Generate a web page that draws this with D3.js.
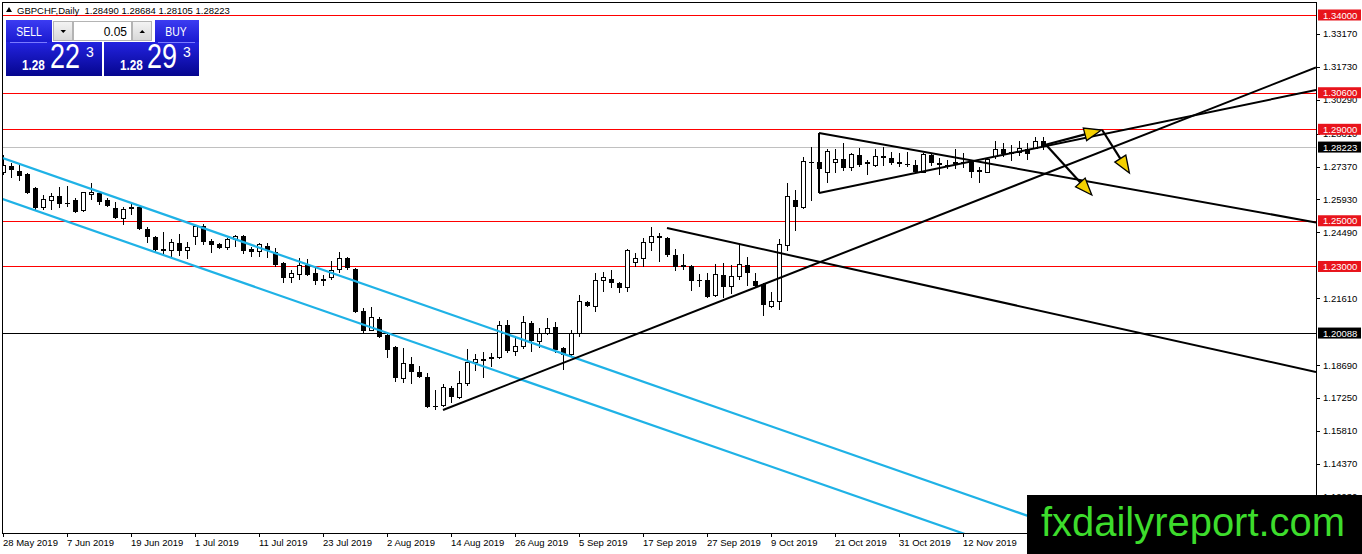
<!DOCTYPE html>
<html><head><meta charset="utf-8">
<script src="https://cdn.jsdelivr.net/npm/d3@7"></script>
<style>
body{margin:0;background:#fff;overflow:hidden}
svg{display:block}
text{font-family:"Liberation Sans",Arial,sans-serif}
</style>
</head><body>
<svg id="c" width="1362" height="554"></svg>
<script>
// ---------------- DATA ----------------
const title = "GBPCHF,Daily  1.28490 1.28684 1.28105 1.28223";
const firstDate = "2019-05-28";
const opens = [1.2713,1.2740,1.2718,1.2705,1.2643,1.2556,1.2587,1.2608,1.2578,1.2591,
1.2543,1.2617,1.2622,1.2591,1.2556,1.2512,1.2556,1.2560,1.2464,1.2429,
1.2377,1.2368,1.2403,1.2368,1.2429,1.2477,1.2412,1.2399,1.2381,1.2416,
1.2434,1.2377,1.2364,1.2390,1.2364,1.2316,1.2250,1.2263,1.2307,1.2272,
1.2246,1.2250,1.2285,1.2337,1.2289,1.2105,1.2022,1.2070,1.2000,1.1948,
1.1812,1.1874,1.1838,1.1816,1.1690,1.1690,1.1769,1.1725,1.1786,1.1878,
1.1893,1.1898,1.1900,1.2044,1.1930,1.1948,1.2053,1.1974,1.2005,1.2036,
1.1943,1.1913,1.2009,1.2145,1.2123,1.2237,1.2246,1.2228,1.2206,1.2316,
1.2333,1.2403,1.2427,1.2425,1.2350,1.2307,1.2303,1.2243,1.2241,1.2175,
1.2263,1.2211,1.2254,1.2307,1.2237,1.2224,1.2123,1.2145,1.2390,1.2591,
1.2560,1.2757,1.2757,1.2709,1.2753,1.2770,1.2731,1.2788,1.2751,1.2740,
1.2777,1.2775,1.2757,1.2749,1.2744,1.2713,1.2788,1.2753,1.2744,1.2756,
1.2758,1.2757,1.2717,1.2713,1.2779,1.2814,1.2795,1.2797,1.2814,1.2818,
1.28490];
const highs = [1.2788,1.2753,1.2744,1.2709,1.2648,1.2613,1.2622,1.2648,1.2652,1.2600,
1.2626,1.2665,1.2630,1.2600,1.2582,1.2560,1.2578,1.2569,1.2473,1.2434,
1.2451,1.2421,1.2442,1.2407,1.2481,1.2486,1.2421,1.2403,1.2425,1.2438,
1.2438,1.2385,1.2403,1.2403,1.2381,1.2320,1.2285,1.2337,1.2333,1.2294,
1.2263,1.2324,1.2364,1.2342,1.2294,1.2118,1.2123,1.2079,1.2009,1.1952,
1.1943,1.1904,1.1865,1.1834,1.1760,1.1786,1.1777,1.1843,1.1939,1.1917,
1.1926,1.1921,1.2062,1.2066,1.1992,1.2084,1.2062,1.2031,1.2075,1.2057,
1.1948,1.2022,1.2175,1.2149,1.2272,1.2276,1.2285,1.2233,1.2377,1.2359,
1.2425,1.2473,1.2447,1.2429,1.2377,1.2355,1.2307,1.2268,1.2272,1.2311,
1.2316,1.2307,1.2399,1.2342,1.2272,1.2228,1.2188,1.2421,1.2665,1.2635,
1.2779,1.2823,1.2801,1.2814,1.2814,1.2840,1.2797,1.2818,1.2766,1.2814,
1.2823,1.2801,1.2797,1.2801,1.2766,1.2797,1.2797,1.2775,1.2766,1.2814,
1.2797,1.2766,1.2735,1.2775,1.2849,1.2840,1.2832,1.2849,1.2840,1.2866,
1.28684];
const lows = [1.2700,1.2687,1.2674,1.2617,1.2547,1.2547,1.2547,1.2556,1.2560,1.2534,
1.2538,1.2591,1.2569,1.2560,1.2508,1.2481,1.2525,1.2460,1.2403,1.2359,
1.2350,1.2342,1.2346,1.2333,1.2394,1.2394,1.2359,1.2377,1.2372,1.2385,
1.2355,1.2342,1.2342,1.2337,1.2298,1.2228,1.2228,1.2241,1.2259,1.2219,
1.2215,1.2241,1.2272,1.2285,1.2097,1.2009,1.2018,1.1989,1.1900,1.1795,
1.1790,1.1786,1.1812,1.1681,1.1672,1.1685,1.1703,1.1720,1.1777,1.1843,
1.1812,1.1861,1.1895,1.1922,1.1908,1.1939,1.1926,1.1943,1.2000,1.1922,
1.1847,1.1904,1.1992,1.2123,1.2101,1.2188,1.2206,1.2184,1.2188,1.2298,
1.2298,1.2368,1.2320,1.2342,1.2281,1.2285,1.2193,1.2211,1.2164,1.2167,
1.2162,1.2180,1.2241,1.2215,1.2211,1.2083,1.2118,1.2110,1.2368,1.2456,
1.2551,1.2585,1.2713,1.2665,1.2709,1.2718,1.2718,1.2735,1.2700,1.2735,
1.2740,1.2744,1.2735,1.2735,1.2709,1.2709,1.2740,1.2700,1.2726,1.2726,
1.2731,1.2687,1.2665,1.2709,1.2770,1.2779,1.2761,1.2783,1.2766,1.2814,
1.28105];
const closes = [1.2740,1.2722,1.2696,1.2622,1.2556,1.2591,1.2608,1.2574,1.2574,1.2538,
1.2622,1.2622,1.2582,1.2565,1.2512,1.2551,1.2560,1.2464,1.2429,1.2372,
1.2368,1.2403,1.2368,1.2385,1.2477,1.2407,1.2394,1.2381,1.2416,1.2429,
1.2368,1.2364,1.2394,1.2372,1.2307,1.2250,1.2268,1.2303,1.2263,1.2237,
1.2237,1.2281,1.2333,1.2294,1.2101,1.2018,1.2075,1.1992,1.1935,1.1812,
1.1874,1.1838,1.1816,1.1685,1.1688,1.1769,1.1729,1.1786,1.1878,1.1895,
1.1895,1.1900,1.2044,1.1930,1.1952,1.2053,1.1974,1.2009,1.2027,1.1935,
1.1913,1.2009,1.2145,1.2127,1.2237,1.2250,1.2228,1.2206,1.2368,1.2333,
1.2403,1.2429,1.2429,1.2350,1.2298,1.2298,1.2237,1.2241,1.2167,1.2263,
1.2211,1.2254,1.2307,1.2272,1.2215,1.2132,1.2149,1.2394,1.2608,1.2560,
1.2761,1.2753,1.2726,1.2801,1.2770,1.2731,1.2788,1.2744,1.2753,1.2783,
1.2779,1.2753,1.2748,1.2748,1.2713,1.2788,1.2753,1.2744,1.2735,1.2757,
1.2757,1.2713,1.2718,1.2766,1.2810,1.2792,1.2797,1.2814,1.2792,1.2848,
1.28223];

const dateTickLabels = ["28 May 2019","7 Jun 2019","19 Jun 2019","1 Jul 2019","11 Jul 2019",
"23 Jul 2019","2 Aug 2019","14 Aug 2019","26 Aug 2019","5 Sep 2019","17 Sep 2019",
"27 Sep 2019","9 Oct 2019","21 Oct 2019","31 Oct 2019","12 Nov 2019"];
const priceTicks = [1.33170,1.31730,1.30290,1.28810,1.27370,1.25930,1.24490,
1.21610,1.18690,1.17250,1.15810,1.14370,1.12930];
const redLevels = [1.34000,1.30600,1.29000,1.25000,1.23000];
const blackLevels = [1.20088];
const bidPrice = 1.28223;
// trend lines: [barIndex, price] anchors
const cyanLines = [
  [[0,1.27736],[80,1.17965]],
  [[0,1.25943],[80,1.16198]]
];
const blackRays = [
  [[55,1.16722],[130,1.27019]],
  [[83,1.24683],[130,1.21035]],
  [[102,1.28839],[130,1.27076]],
  [[102,1.26214],[130,1.28244]]
];
const blackSegments = [ [[102,1.28839],[102,1.26214]] ];
const arrows = [
  [[130.2,1.28314],[137.3,1.28970]],
  [[130.4,1.28314],[136.1,1.26127]],
  [[137.4,1.28970],[140.8,1.27089]]
];
const panelLot = "0.05";
const sellQuote = ["1.28","22","3"];
const buyQuote = ["1.28","29","3"];
const logoText = "fxdailyreport.com";

// ---------------- LAYOUT ----------------
const L = 2, T = 2, R = 1316, B = 533;
const svg = d3.select("#c");

// bar dates (weekdays only, as on the chart)
const dates = [];
{
  let d = new Date(firstDate + "T00:00:00Z");
  while (dates.length < 180) {
    const wd = d.getUTCDay();
    if (wd !== 0 && wd !== 6) dates.push(new Date(d));
    d = new Date(d.getTime() + 86400000);
  }
}
const fmt = d3.utcFormat("%-d %b %Y");
const x = d3.scaleLinear().domain([0, 1]).range([3, 11]);
const y = d3.scaleLinear().domain([1.34, 1.1293]).range([15, 496.7]);

const defs = svg.append("defs");
defs.append("clipPath").attr("id","plot").append("rect")
  .attr("x",L).attr("y",T).attr("width",R-L).attr("height",B-T);
function grad(id, c1, c2){
  const g = defs.append("linearGradient").attr("id",id).attr("x1",0).attr("y1",0).attr("x2",0).attr("y2",1);
  g.append("stop").attr("offset","0%").attr("stop-color",c1);
  g.append("stop").attr("offset","100%").attr("stop-color",c2);
}
grad("btn","#3c3cf2","#1a1ad0");
grad("big","#2323e0","#05058e");
grad("gray","#f4f4f4","#d8d8d8");

svg.append("rect").attr("width",1362).attr("height",554).attr("fill","#fff");

const plot = svg.append("g").attr("clip-path","url(#plot)");

// horizontal levels
const hl = plot.append("g").attr("shape-rendering","crispEdges");
hl.append("line").attr("x1",L).attr("x2",R)
  .attr("y1",Math.round(y(bidPrice))+0.5).attr("y2",Math.round(y(bidPrice))+0.5)
  .attr("stroke","#c0c0c0").attr("stroke-width",1);
hl.selectAll(".red").data(redLevels).join("line").attr("class","red")
  .attr("x1",L).attr("x2",R)
  .attr("y1",d=>Math.round(y(d))+0.5).attr("y2",d=>Math.round(y(d))+0.5)
  .attr("stroke","#ff0000").attr("stroke-width",1);
hl.selectAll(".blk").data(blackLevels).join("line").attr("class","blk")
  .attr("x1",L).attr("x2",R)
  .attr("y1",d=>Math.round(y(d))+0.5).attr("y2",d=>Math.round(y(d))+0.5)
  .attr("stroke","#000").attr("stroke-width",1);

// candles
const bars = d3.range(opens.length).map(i=>({i,o:opens[i],h:highs[i],l:lows[i],c:closes[i]}));
const cg = plot.append("g").attr("shape-rendering","crispEdges");
cg.selectAll(".wick").data(bars).join("line").attr("class","wick")
  .attr("x1",d=>x(d.i)+0.5).attr("x2",d=>x(d.i)+0.5)
  .attr("y1",d=>y(d.h)).attr("y2",d=>y(d.l)).attr("stroke","#000");
cg.selectAll(".body").data(bars).join("rect").attr("class","body")
  .attr("x",d=>d.c>=d.o ? x(d.i)-1.5 : x(d.i)-2)
  .attr("width",d=>d.c>=d.o ? 4 : 5)
  .attr("y",d=>y(Math.max(d.o,d.c)))
  .attr("height",d=>Math.max(1, y(Math.min(d.o,d.c))-y(Math.max(d.o,d.c))))
  .attr("fill",d=>d.c>=d.o ? "#fff" : "#000")
  .attr("stroke",d=>d.c>=d.o ? "#000" : "none");

// trend lines
function px(p){ return [x(p[0]), y(p[1])]; }
function lineAtX(a,b,xx){ const s=(b[1]-a[1])/(b[0]-a[0]); return a[1]+s*(xx-a[0]); }
cyanLines.forEach(([p1,p2])=>{
  const a=px(p1), b=px(p2);
  plot.append("line").attr("x1",L).attr("y1",lineAtX(a,b,L))
    .attr("x2",R).attr("y2",lineAtX(a,b,R))
    .attr("stroke","#1fb2e6").attr("stroke-width",2.2);
});
blackRays.forEach(([p1,p2])=>{
  const a=px(p1), b=px(p2);
  plot.append("line").attr("x1",a[0]).attr("y1",a[1])
    .attr("x2",R).attr("y2",lineAtX(a,b,R))
    .attr("stroke","#000").attr("stroke-width",2);
});
blackSegments.forEach(([p1,p2])=>{
  const a=px(p1), b=px(p2);
  plot.append("line").attr("x1",a[0]).attr("y1",a[1]).attr("x2",b[0]).attr("y2",b[1])
    .attr("stroke","#000").attr("stroke-width",2);
});
arrows.forEach(([p1,p2])=>{
  const s=px(p1), e=px(p2);
  const dx=e[0]-s[0], dy=e[1]-s[1], len=Math.hypot(dx,dy);
  const ux=dx/len, uy=dy/len, nx=-uy, ny=ux;
  const hlen=17, hw=6.5;
  const bx=e[0]-ux*hlen, by=e[1]-uy*hlen;
  plot.append("line").attr("x1",s[0]).attr("y1",s[1]).attr("x2",bx).attr("y2",by)
    .attr("stroke","#000").attr("stroke-width",2.2);
  plot.append("polygon")
    .attr("points",[[e[0],e[1]],[bx+nx*hw,by+ny*hw],[bx-nx*hw,by-ny*hw]].map(p=>p.join(",")).join(" "))
    .attr("fill","#f4d000").attr("stroke","#000").attr("stroke-width",1.3).attr("stroke-linejoin","miter");
});

// frame
const fr = svg.append("g").attr("stroke","#000").attr("shape-rendering","crispEdges");
fr.append("line").attr("x1",L+0.5).attr("x2",L+0.5).attr("y1",T).attr("y2",B+0.5);
fr.append("line").attr("x1",L).attr("x2",R+0.5).attr("y1",T+0.5).attr("y2",T+0.5);
fr.append("line").attr("x1",L).attr("x2",R+0.5).attr("y1",B+0.5).attr("y2",B+0.5);
fr.append("line").attr("x1",R+0.5).attr("x2",R+0.5).attr("y1",T).attr("y2",B+0.5);

// price axis
const pa = svg.append("g");
pa.selectAll("line").data(priceTicks).join("line")
  .attr("x1",R).attr("x2",R+4)
  .attr("y1",d=>Math.round(y(d))+0.5).attr("y2",d=>Math.round(y(d))+0.5)
  .attr("stroke","#000").attr("shape-rendering","crispEdges");
pa.selectAll("text").data(priceTicks).join("text")
  .attr("x",R+7).attr("y",d=>y(d)+3.5)
  .attr("font-size",9.5).attr("fill","#000")
  .text(d=>d.toFixed(5));

function priceLabel(v, bg){
  const g = svg.append("g");
  g.append("rect").attr("x",R+2).attr("y",y(v)-5.5).attr("width",43).attr("height",11).attr("fill",bg);
  g.append("text").attr("x",R+7).attr("y",y(v)+3.5).attr("font-size",9.5).attr("fill","#fff").text(v.toFixed(5));
}
redLevels.forEach(v=>priceLabel(v,"#e8141c"));
blackLevels.forEach(v=>priceLabel(v,"#000"));
priceLabel(bidPrice,"#000");

// time axis
const idxOf = {};
dates.forEach((d,i)=>{ idxOf[fmt(d)] = i; });
const ta = svg.append("g");
const tdat = dateTickLabels.map(s=>({s, i: idxOf[s]}));
ta.selectAll("line").data(tdat).join("line")
  .attr("x1",d=>x(d.i)+0.5).attr("x2",d=>x(d.i)+0.5).attr("y1",B).attr("y2",B+4)
  .attr("stroke","#000").attr("shape-rendering","crispEdges");
ta.selectAll("text").data(tdat).join("text")
  .attr("x",d=>x(d.i)).attr("y",546).attr("font-size",9.5).attr("fill","#000")
  .text(d=>d.s);

// title
svg.append("polygon").attr("points","6,12 12,12 9,7").attr("fill","#000");
svg.append("text").attr("x",17).attr("y",13.5).attr("font-size",9.5).attr("fill","#000")
  .attr("xml:space","preserve").text(title);

// one click panel
const p = svg.append("g");
p.append("rect").attr("x",6).attr("y",20).attr("width",46).attr("height",22).attr("fill","url(#btn)");
p.append("rect").attr("x",155).attr("y",20).attr("width",44).attr("height",22).attr("fill","url(#btn)");
p.append("rect").attr("x",6).attr("y",42).attr("width",96).attr("height",34).attr("fill","url(#big)");
p.append("rect").attr("x",104).attr("y",42).attr("width",95).attr("height",34).attr("fill","url(#big)");
p.append("line").attr("x1",10).attr("x2",47).attr("y1",42.5).attr("y2",42.5).attr("stroke","#7a7aff");
p.append("line").attr("x1",158).attr("x2",195).attr("y1",42.5).attr("y2",42.5).attr("stroke","#7a7aff");
p.append("rect").attr("x",53.5).attr("y",21.5).attr("width",19).attr("height",19).attr("fill","url(#gray)").attr("stroke","#b4b4b4");
p.append("rect").attr("x",73.5).attr("y",21.5).attr("width",58).attr("height",19).attr("fill","#fff").attr("stroke","#b4b4b4");
p.append("rect").attr("x",132.5).attr("y",21.5).attr("width",19).attr("height",19).attr("fill","url(#gray)").attr("stroke","#b4b4b4");
p.append("polygon").attr("points","60.5,30 66,30 63.25,33").attr("fill","#000");
p.append("polygon").attr("points","139.5,33 145,33 142.25,30").attr("fill","#000");
p.append("text").attr("x",127).attr("y",35.5).attr("text-anchor","end").attr("font-size",12).attr("fill","#000").text(panelLot);
function narrow(xx, yy, size, sx, txt, anchor, weight){
  const g = p.append("g").attr("transform",`translate(${xx},${yy}) scale(${sx},1)`);
  g.append("text").attr("x",0).attr("y",0).attr("font-size",size).attr("fill","#fff")
    .attr("text-anchor",anchor||"start").attr("font-weight",weight||"normal").text(txt);
}
narrow(29, 36, 13, 0.8, "SELL", "middle");
narrow(176, 36, 13, 0.8, "BUY", "middle");
function quote(q, x0, x1, x2){
  narrow(x0, 70, 14, 0.84, q[0], "start", "bold");
  narrow(x1, 68, 35, 0.77, q[1], "start");
  p.append("text").attr("x",x2).attr("y",57).attr("font-size",14).attr("fill","#fff").text(q[2]);
}
quote(sellQuote, 22, 50, 86);
quote(buyQuote, 120, 147, 183);

// logo
svg.append("rect").attr("x",1027).attr("y",495).attr("width",335).attr("height",59).attr("fill","#000");
svg.append("text").attr("x",1041).attr("y",536).attr("font-size",40).attr("fill","#3ddc2c")
  .attr("textLength",304).attr("lengthAdjust","spacingAndGlyphs").text(logoText);
</script>
</body></html>
